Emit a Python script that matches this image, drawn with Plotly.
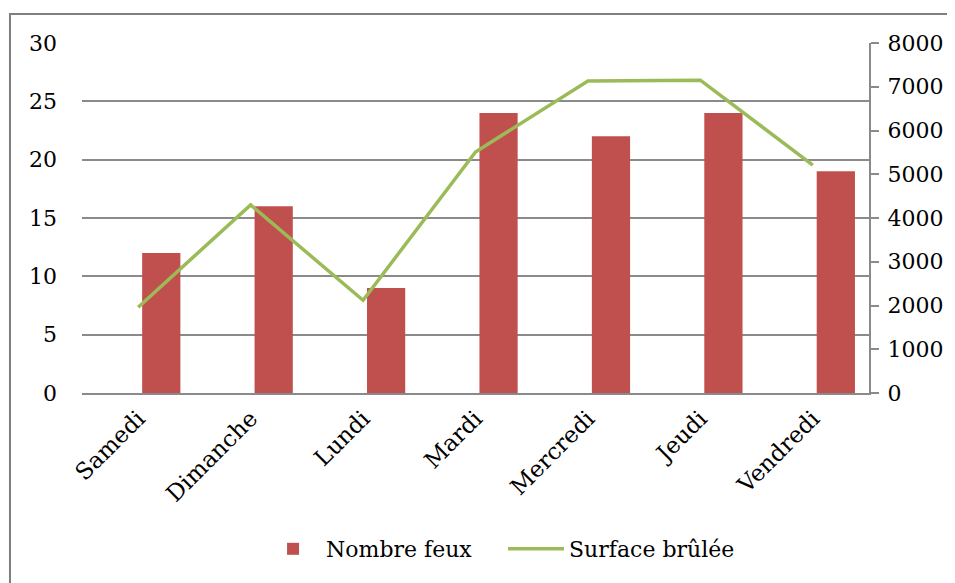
import plotly.graph_objects as go

jours = ["Samedi", "Dimanche", "Lundi", "Mardi", "Mercredi", "Jeudi", "Vendredi"]
nombre_feux = [12, 16, 9, 24, 22, 24, 19]
surface_brulee = [1960, 4300, 2120, 5510, 7130, 7150, 5210]

police = "DejaVu Serif"
gris = "#8a8a8a"
hauteur = 575

fig = go.Figure()

fig.add_trace(go.Bar(
    x=jours, y=nombre_feux, name="Nombre feux",
    marker=dict(color="#C0504D", line=dict(width=0)),
    width=0.34, offset=0.035,
))

fig.add_trace(go.Scatter(
    x=jours, y=surface_brulee, name="Surface brûlée",
    mode="lines", line=dict(color="#9BBB59", width=3.5),
    yaxis="y2",
))

# cadre du graphique (coupé à droite et en bas comme dans l'original)
fig.add_shape(type="rect", xref="paper", yref="paper",
              x0=-0.0915, y0=-0.6, x1=1.4, y1=1.083,
              line=dict(color="#7f7f7f", width=2), layer="below")

# la page ajoute 8px de marge autour du graphique
fig.update_layout(
    width=947, height=hauteur,
    margin=dict(l=74, r=86, t=35, b=hauteur - 385),
    paper_bgcolor="white", plot_bgcolor="white",
    font=dict(family=police, size=22, color="black"),
    showlegend=True,
    legend=dict(orientation="h", x=0.535, xanchor="center",
                yref="container", y=1 - 541 / hauteur, yanchor="middle",
                font=dict(size=22), itemwidth=56, traceorder="normal",
                entrywidth=172, entrywidthmode="pixels"),
    xaxis=dict(
        showline=True, linecolor=gris, linewidth=2, automargin=False,
        tickangle=-45, tickfont=dict(size=23),
        showgrid=False, ticks="", ticklabelstandoff=1,
    ),
    yaxis=dict(
        range=[0, 30], dtick=5, showgrid=True, gridcolor=gris, gridwidth=2,
        showline=False, ticks="", ticklabelstandoff=24, zeroline=False,
        tickfont=dict(size=22), automargin=False,
    ),
    yaxis2=dict(
        range=[0, 8000], dtick=1000, overlaying="y", side="right",
        showgrid=False, showline=True, linecolor=gris, linewidth=2,
        ticks="outside", ticklen=8, tickcolor=gris, tickwidth=2, zeroline=False,
        ticklabelstandoff=4, tickfont=dict(size=22), automargin=False,
    ),
)

fig.write_html("out.html")
